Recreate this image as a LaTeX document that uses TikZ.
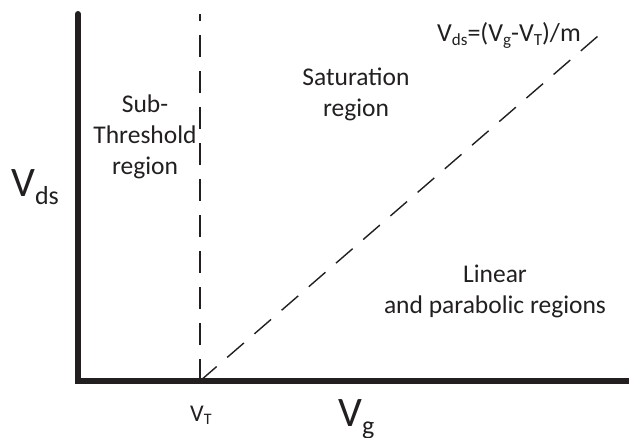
\documentclass[tikz,border=0pt]{standalone}
\usepackage{fontspec}
\setmainfont{Carlito}
\definecolor{ink}{HTML}{231F20}
\newcommand\lowsub[3]{{\fontsize{#1}{#1}\selectfont\raisebox{-#2}{#3}}}
\begin{document}
\begin{tikzpicture}[x=1pt,y=-1pt,
  axis/.style={line width=6pt,draw=ink,line cap=round,line join=miter},
  guide/.style={line width=1.4pt,draw=ink,dash pattern=on 22pt off 14pt},
  lbl/.style={text=ink,inner sep=0pt,align=center,anchor=base,font=\fontsize{25.5}{31}\selectfont},
  big/.style={text=ink,inner sep=0pt,anchor=base west,font=\fontsize{42}{48}\selectfont},
]
\useasboundingbox (0,0) rectangle (629,438);
\coordinate (ytop) at (78,14);
\coordinate (corner) at (78,381);
\coordinate (xend) at (632,381);
\coordinate (vt) at (200,381);
\coordinate (vtop) at (200,14);
\coordinate (diag) at (598,36);
\draw[guide] (vt) -- (vtop);
\draw[guide] (vt) -- (diag);
\draw[axis] (ytop) -- (corner) -- (xend);
\node[lbl] (sub) at (145,175) {Sub-\\Threshold\\region};
\node[lbl] (sat) at (356,117) {Saturation\\region};
\node[lbl] (lin) at (495,313) {Linear\\and parabolic regions};
\node[text=ink,inner sep=0pt,anchor=base west,font=\fontsize{26}{30}\selectfont] (eq) at (437,42)
  {V\lowsub{17}{4pt}{ds}=(V\lowsub{17}{4pt}{g}-V\lowsub{17}{4pt}{T})/m};
\node[big] (vds) at (11,197) {V\lowsub{26}{8pt}{ds}};
\node[big] (vg) at (338,426) {V\lowsub{26}{8pt}{g}};
\node[text=ink,inner sep=0pt,anchor=base west,font=\fontsize{24}{28}\selectfont] (vtl) at (190,421) {V\lowsub{16}{3pt}{T}};
\end{tikzpicture}
\end{document}
